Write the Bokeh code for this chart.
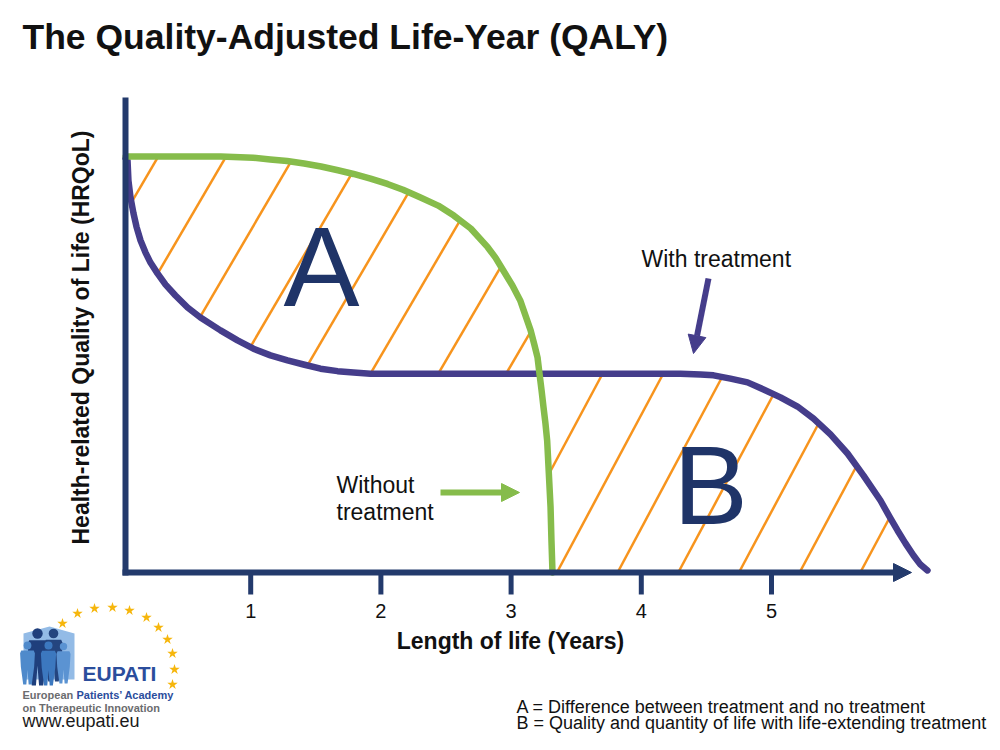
import math
import numpy as np
from bokeh.plotting import figure
from bokeh.models import Label, Arrow, NormalHead, Range1d
from bokeh.core.properties import value
from bokeh.embed import file_html
from bokeh.resources import INLINE

# ---------------- data ----------------
title_text = "The Quality-Adjusted Life-Year (QALY)"
x_axis_label = "Length of life (Years)"
y_axis_label = "Health-related Quality of Life (HRQoL)"
tick_years = [1, 2, 3, 4, 5]
tick_labels = ["1", "2", "3", "4", "5"]

# "Without treatment" curve (years, HRQoL)
without_x = [0.04, 0.25, 0.51, 0.77, 1.02, 1.15, 1.28, 1.41, 1.54, 1.67, 1.79, 1.92, 2.05,
             2.17, 2.3, 2.44, 2.56, 2.69, 2.82, 2.88, 2.94, 3.01, 3.07, 3.11, 3.15, 3.18,
             3.203, 3.218, 3.234, 3.249, 3.264, 3.277, 3.29, 3.303, 3.31, 3.318]
without_y = [1.0, 1.0, 1.0, 1.0, 0.997, 0.993, 0.989, 0.983, 0.976, 0.967, 0.958, 0.947, 0.934,
             0.92, 0.902, 0.882, 0.858, 0.827, 0.782, 0.757, 0.726, 0.69, 0.654, 0.618, 0.582, 0.546,
             0.517, 0.478, 0.438, 0.397, 0.358, 0.317, 0.237, 0.157, 0.077, 0.0]

# "With treatment" curve (years, HRQoL)
with_x = [0.04, 0.054, 0.061, 0.077, 0.1, 0.123, 0.154, 0.192, 0.23, 0.284, 0.346, 0.422,
          0.515, 0.614, 0.768, 0.899, 1.021, 1.152, 1.283, 1.406, 1.536, 1.667, 1.79, 1.92,
          2.6, 3.2, 3.8, 4.301, 4.455, 4.555, 4.685, 4.816, 4.939, 5.069, 5.2, 5.323, 5.453,
          5.584, 5.707, 5.837, 5.914, 5.968, 6.029, 6.091, 6.144, 6.198]
with_y = [0.995, 0.99, 0.942, 0.901, 0.863, 0.831, 0.798, 0.769, 0.745, 0.719, 0.692, 0.666,
          0.637, 0.613, 0.582, 0.558, 0.538, 0.522, 0.51, 0.5, 0.49, 0.484, 0.481, 0.478,
          0.478, 0.478, 0.478, 0.478, 0.476, 0.474, 0.466, 0.457, 0.44, 0.421, 0.399, 0.37, 0.332,
          0.286, 0.233, 0.173, 0.13, 0.101, 0.07, 0.041, 0.019, 0.005]

region_names = ["A", "B"]
curve_names = ["With treatment", "Without\ntreatment"]
footnotes = ["A = Difference between treatment and no treatment",
             "B = Quality and quantity of life with life-extending treatment"]

# ---------------- styling / geometry ----------------
NAVY = "#233a6c"
PURPLE = "#453d8b"
GREEN = "#86bc4b"
ORANGE = "#f7941d"
LETTER = "#1f3468"
STAR = "#f6b60c"
TXT = "#111111"
FONT = "Liberation Sans"
BASE_FIX = 0.34   # observed offset of the rendered baseline, in em

W, H = 992, 734
X0_PX, PX_PER_YEAR = 120.0, 130.2
Y0_PX, PX_PER_UNIT = 572.0, 416.0


def X(px):
    return (px - X0_PX) / PX_PER_YEAR


def Y(py):
    return (Y0_PX - py) / PX_PER_UNIT


def YB(py, size):
    """data y giving a visual text baseline at pixel row py"""
    return Y(py - BASE_FIX * size)


p = figure(width=W, height=H,
           x_range=Range1d(X(0), X(W)), y_range=Range1d(Y(H), Y(0)),
           output_backend="svg", toolbar_location=None,
           x_axis_type=None, y_axis_type=None, min_border=0,
           outline_line_color=None, background_fill_color="white",
           border_fill_color="white")
p.grid.visible = False

gx, gy = np.array(without_x), np.array(without_y)
wx, wy = np.array(with_x), np.array(with_y)

# crossing of the two curves
xs_dense = np.linspace(2.5, 3.318, 6000)
diff = np.interp(xs_dense, gx, gy) - np.interp(xs_dense, wx, wy)
xc = xs_dense[np.argmax(diff < 0)]
yc = float(np.interp(xc, wx, wy))

# region polygons built from the curves
polyA_x = np.concatenate([gx[gx < xc], [xc], wx[wx < xc][::-1]])
polyA_y = np.concatenate([gy[gx < xc], [yc], wy[wx < xc][::-1]])
polyB_x = np.concatenate([[xc], gx[gx > xc], [wx[-1]], wx[wx > xc][::-1]])
polyB_y = np.concatenate([[yc], gy[gx > xc], [0.0], wy[wx > xc][::-1]])


def inside(px_, py_, vx, vy):
    res = np.zeros(px_.shape, bool)
    n = len(vx)
    j = n - 1
    for i in range(n):
        xi, yi, xj, yj = vx[i], vy[i], vx[j], vy[j]
        cond = (yi > py_) != (yj > py_)
        with np.errstate(divide="ignore", invalid="ignore"):
            xint = (xj - xi) * (py_ - yi) / (yj - yi) + xi
        res ^= cond & (px_ < xint)
        j = i
    return res


def hatch(vx, vy, anchors, y_anchor, slope):
    h = np.arange(-700, 700, 0.5)
    hx, hy = [], []
    for xa in anchors:
        lx = xa + h / slope / PX_PER_YEAR
        ly = y_anchor + h / PX_PER_UNIT
        m = inside(lx, ly, vx, vy).astype(int)
        idx = np.flatnonzero(np.diff(np.concatenate([[0], m, [0]])))
        for s, e in zip(idx[::2], idx[1::2]):
            if e - s > 2:
                hx.append([lx[s], lx[e - 1]])
                hy.append([ly[s], ly[e - 1]])
    return hx, hy


ax_, ay_ = hatch(polyA_x, polyA_y, [-0.685 + 0.521 * k for k in range(8)], yc, 1.71)
bx_, by_ = hatch(polyB_x, polyB_y, [2.886 + 0.466 * k for k in range(7)], 0.0, 1.87)
p.multi_line(xs=ax_ + bx_, ys=ay_ + by_, line_color=ORANGE, line_width=2.5)

# curves
p.line(with_x, with_y, line_color=PURPLE, line_width=6.5, line_join="round", line_cap="round")
p.line(without_x, without_y, line_color=GREEN, line_width=6.5, line_join="round", line_cap="round")

# axes (drawn by hand)
p.segment(x0=[X(125)], y0=[Y(575)], x1=[X(125)], y1=[Y(97)], line_color=NAVY, line_width=6)
p.add_layout(Arrow(x_start=X(122), y_start=0, x_end=X(911), y_end=0,
                   line_color=NAVY, line_width=6,
                   end=NormalHead(size=18, fill_color=NAVY, line_color=NAVY, line_width=1)))
p.segment(x0=tick_years, y0=[0] * len(tick_years), x1=tick_years, y1=[Y(594)] * len(tick_years),
          line_color=NAVY, line_width=5)
p.text(x=tick_years, y=[YB(617, 20)] * len(tick_years), text=tick_labels,
       text_font=value(FONT), text_font_size="20px", text_color=TXT,
       text_align="center", text_baseline="alphabetic")

# pointer arrows
p.add_layout(Arrow(x_start=X(440), y_start=Y(492), x_end=X(519), y_end=Y(492),
                   line_color=GREEN, line_width=6,
                   end=NormalHead(size=18, fill_color=GREEN, line_color=GREEN, line_width=1)))
p.add_layout(Arrow(x_start=X(708), y_start=Y(278), x_end=X(693), y_end=Y(353),
                   line_color=PURPLE, line_width=6,
                   end=NormalHead(size=18, fill_color=PURPLE, line_color=PURPLE, line_width=1)))


def label(xpx, ypx, text, size, bold=False, color=TXT, align="left", baseline="alphabetic",
          angle=0.0):
    yy = YB(ypx, size) if baseline == "alphabetic" else Y(ypx)
    p.add_layout(Label(x=X(xpx), y=yy, text=text, text_font=FONT, text_font_size=f"{size}px",
                       text_font_style="bold" if bold else "normal", text_color=color,
                       text_align=align, text_baseline=baseline, angle=angle))


label(22, 49, title_text, 35.5, bold=True)
label(510, 648, x_axis_label, 23, bold=True, align="center")
label(80, 337, y_axis_label, 23, bold=True, align="center", baseline="middle", angle=math.pi / 2)
label(641, 266, curve_names[0], 23)
for i, line_txt in enumerate(curve_names[1].split("\n")):
    label(336, 492 + 27 * i, line_txt, 23)

label(321, 305, region_names[0], 114, color=LETTER, align="center")
label(710, 523, region_names[1], 112, color=LETTER, align="center")

label(516, 713, footnotes[0], 18)
label(516, 729, footnotes[1], 18)

# ---------------- EUPATI logo ----------------
house = [(23, 679), (23, 633), (49, 626), (74, 633), (74, 679)]
p.patch([X(a) for a, b in house], [Y(b) for a, b in house], fill_color="#93bbe6", line_color=None)

person_shape = [(-0.16, 0.13), (0.16, 0.13), (0.19, 0.2), (0.17, 0.55), (0.11, 1.0),
                (0.03, 1.0), (0.0, 0.62), (-0.03, 1.0), (-0.11, 1.0), (-0.17, 0.55), (-0.19, 0.2)]
people = [(37, 633, 52, "#1f3f7c"), (53, 633, 48, "#24457f"), (27, 645, 39, "#4f8acb"),
          (48, 645, 40, "#3c78bf"), (63, 646, 37, "#5b93d2")]
for cx, hy, hgt, col in people:
    xs = [X(cx + dx * hgt) for dx, dy in person_shape]
    ys = [Y(hy + dy * hgt) for dx, dy in person_shape]
    p.patch(xs, ys, fill_color=col, line_color=None)
    p.scatter([X(cx)], [Y(hy)], size=0.2 * hgt, fill_color=col, line_color=None)

logo_stars = [(62, 623), (77, 613), (94, 608), (112, 607), (129, 610), (146, 617),
              (158, 627), (167, 639), (172, 653), (174, 669), (172, 684)]
p.scatter([X(a) for a, b in logo_stars], [Y(b) for a, b in logo_stars], marker="star",
          size=11, fill_color=STAR, line_color=None)

label(82, 680, "EUPATI", 21, bold=True, color="#2b4d9c")
label(22, 698, "European", 11, bold=True, color="#6b6c6e")
label(76, 698, "Patients\u2019 Academy", 11, bold=True, color="#2b4d9c")
label(22, 711, "on Therapeutic Innovation", 11, bold=True, color="#6b6c6e")
label(22, 727, "www.eupati.eu", 18, color="#1a1a1a")

open("out.html", "w").write(file_html(p, INLINE))
